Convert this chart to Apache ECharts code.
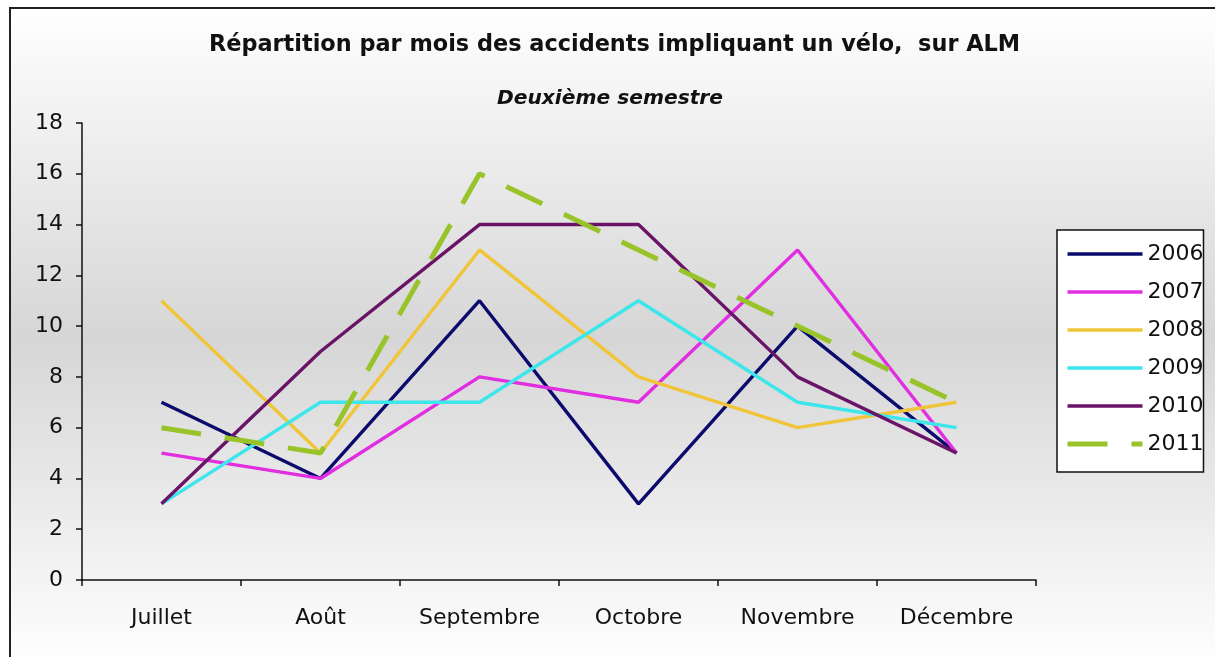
<!DOCTYPE html>
<html>
<head>
<meta charset="utf-8">
<script src="https://cdn.jsdelivr.net/npm/echarts@6/dist/echarts.min.js"></script>
<style>html,body{margin:0;padding:0;background:#fff}#c{width:1215px;height:657px}</style>
</head>
<body>
<div id="c"></div>
<script>
var titleText = "Répartition par mois des accidents impliquant un vélo,  sur ALM";
var subtitleText = "Deuxième semestre";
var months = ["Juillet", "Août", "Septembre", "Octobre", "Novembre", "Décembre"];
var years = ["2006", "2007", "2008", "2009", "2010", "2011"];
var v2006 = [7, 4, 11, 3, 10, 5];
var v2007 = [5, 4, 8, 7, 13, 5];
var v2008 = [11, 5, 13, 8, 6, 7];
var v2009 = [3, 7, 7, 11, 7, 6];
var v2010 = [3, 9, 14, 14, 8, 5];
var v2011 = [6, 5, 16, 13, 10, 7];
var values = [v2006, v2007, v2008, v2009, v2010, v2011];
var colors = ["#0b0b6e", "#e02ee0", "#f0c53a", "#3ce6ea", "#6a1468", "#98c42a"];

var FONT = "DejaVu Sans";
function lineStyleFor(i) {
  var dashed = (i === 5);
  return {
    color: colors[i],
    width: dashed ? 5 : 3.4,
    type: dashed ? [40, 24] : "solid",
    cap: "butt"
  };
}
var series = years.map(function (y, i) {
  return {
    name: y,
    type: "line",
    data: values[i],
    symbol: "none",
    smooth: false,
    lineStyle: lineStyleFor(i),
    itemStyle: { color: colors[i] },
    emphasis: { disabled: true }
  };
});
var legendData = years.map(function (y, i) {
  return { name: y, lineStyle: lineStyleFor(i), itemStyle: { opacity: 0 } };
});

var chart = echarts.init(document.getElementById("c"), null, { renderer: "canvas" });
chart.setOption({
  animation: false,
  backgroundColor: "#ffffff",
  graphic: [
    {
      type: "rect", z: -10, silent: true,
      shape: { x: 10, y: 8, width: 1220, height: 660 },
      style: {
        fill: new echarts.graphic.LinearGradient(0, 0, 0, 1, [
          { offset: 0, color: "#ffffff" },
          { offset: 0.5, color: "#d6d6d6" },
          { offset: 1, color: "#ffffff" }
        ]),
        stroke: "#222", lineWidth: 2
      }
    },
    {
      type: "text", left: 209, top: 34, silent: true,
      style: { text: titleText, font: "bold 22.4px '" + FONT + "'", fill: "#111" }
    },
    {
      type: "text", left: 497, top: 89, silent: true,
      style: { text: subtitleText, font: "italic bold 20.2px '" + FONT + "'", fill: "#111" }
    }
  ],
  grid: { left: 82, right: 179, top: 123, bottom: 77, containLabel: false },
  legend: {
    orient: "vertical",
    left: 1057, top: 230,
    padding: [13, 0, 17, 8],
    itemWidth: 75, itemHeight: 16, itemGap: 16,
    backgroundColor: "#ffffff",
    borderColor: "#111", borderWidth: 1.5, borderRadius: 0,
    textStyle: { fontFamily: FONT, fontSize: 22, color: "#111" },
    itemStyle: { opacity: 0 },
    data: legendData
  },
  xAxis: {
    type: "category",
    data: months,
    boundaryGap: true,
    axisLine: { lineStyle: { color: "#111", width: 1.5 } },
    axisTick: { show: true, length: 6, alignWithLabel: false, lineStyle: { color: "#111", width: 1.5 } },
    axisLabel: { fontFamily: FONT, fontSize: 22, color: "#111", margin: 27, interval: 0 },
    splitLine: { show: false }
  },
  yAxis: {
    type: "value",
    min: 0, max: 18, interval: 2,
    axisLine: { show: true, lineStyle: { color: "#111", width: 1.5 } },
    axisTick: { show: true, length: 6, lineStyle: { color: "#111", width: 1.5 } },
    axisLabel: { fontFamily: FONT, fontSize: 22, color: "#111", margin: 19 },
    splitLine: { show: false }
  },
  series: series
});
</script>
</body>
</html>
